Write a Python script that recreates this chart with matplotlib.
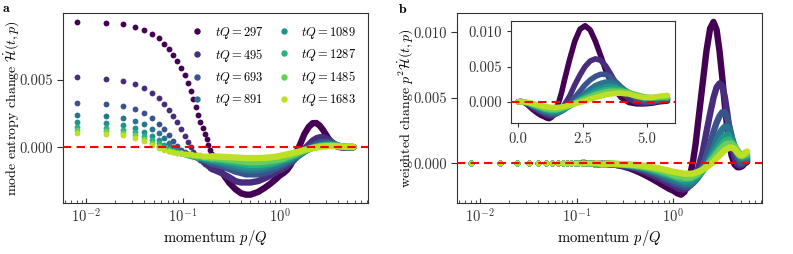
"""
Mode entropy change vs momentum, two panels (plain and p^2 weighted)
"""

import numpy as np
import matplotlib.pyplot as plt
from matplotlib.ticker import MultipleLocator, FormatStrFormatter

plt.rcParams.update({
    'font.family': 'serif',
    'font.serif': ['cmr10'],
    'mathtext.fontset': 'cm',
    'axes.formatter.use_mathtext': True,
    'font.size': 10.5,
    'axes.labelsize': 10,
    'xtick.labelsize': 10.5,
    'ytick.labelsize': 10.5,
    'axes.edgecolor': '#333333',
    'xtick.color': '#333333',
    'ytick.color': '#333333',
})

# times tQ of the snapshots
t_values = [297, 495, 693, 891, 1089, 1287, 1485, 1683]

# low momenta: lattice points (drawn as dots) then the dense part
p_low = [0.008, 0.016, 0.024, 0.032, 0.040, 0.048, 0.056, 0.064, 0.072, 0.080,
         0.088, 0.096, 0.104, 0.112, 0.120, 0.128, 0.136, 0.144, 0.152, 0.160,
         0.168, 0.176, 0.184, 0.192, 0.200,
         0.25, 0.3, 0.35, 0.4, 0.45, 0.5, 0.6, 0.7, 0.8, 0.9, 1.0]
n_dots = 25

# entropy change H'(t, p) at p_low
H_low = [
    [0.00925, 0.0092, 0.00908, 0.00888, 0.00866, 0.00837, 0.00803, 0.00765, 0.00725, 0.00682,
     0.00636, 0.00585, 0.0053, 0.00472, 0.00413, 0.00353, 0.00295, 0.0024, 0.0019, 0.00145,
     0.001, 0.00058, 0.00015, -0.0002, -0.00055,
     -0.0018, -0.0026, -0.0031, -0.0034, -0.0035, -0.0035, -0.0033, -0.0030, -0.0027, -0.0024, -0.0021],
    [0.00515, 0.00505, 0.00488, 0.00465, 0.00438, 0.00403, 0.00363, 0.00322, 0.00278, 0.00233,
     0.00185, 0.00135, 0.00085, 0.0004, 0.0, -0.00035, -0.0006, -0.0008, -0.00095, -0.0011,
     -0.0012, -0.0013, -0.0014, -0.0015, -0.0016,
     -0.0019, -0.0022, -0.0025, -0.0026, -0.0026, -0.0026, -0.0025, -0.0023, -0.0021, -0.0019, -0.0017],
    [0.0033, 0.00318, 0.00303, 0.0028, 0.0025, 0.00215, 0.00175, 0.00133, 0.0009, 0.00048,
     0.0001, -0.00018, -0.00036, -0.0005, -0.0006, -0.00068, -0.00075, -0.00082, -0.00088, -0.00094,
     -0.001, -0.00105, -0.0011, -0.00115, -0.0012,
     -0.0014, -0.0016, -0.0018, -0.0019, -0.002, -0.002, -0.002, -0.0019, -0.0018, -0.0016, -0.0015],
    [0.0024, 0.0023, 0.00215, 0.00195, 0.0017, 0.00138, 0.00103, 0.00068, 0.00033, 0.00003,
     -0.0002, -0.00035, -0.00045, -0.00053, -0.0006, -0.00066, -0.00072, -0.00077, -0.00082, -0.00086,
     -0.0009, -0.00094, -0.00098, -0.001, -0.00103,
     -0.0012, -0.0014, -0.0015, -0.0016, -0.0017, -0.0017, -0.0017, -0.0016, -0.0015, -0.0014, -0.0013],
    [0.00185, 0.00177, 0.00162, 0.0014, 0.00113, 0.00082, 0.0005, 0.0002, -0.00005, -0.00022,
     -0.00033, -0.00042, -0.0005, -0.00056, -0.00061, -0.00066, -0.0007, -0.00074, -0.00078, -0.00081,
     -0.00084, -0.00087, -0.0009, -0.00092, -0.00094,
     -0.0011, -0.0012, -0.0013, -0.0014, -0.0015, -0.0015, -0.0015, -0.0014, -0.0013, -0.0012, -0.0011],
    [0.0015, 0.00143, 0.0013, 0.0011, 0.00085, 0.00057, 0.0003, 0.00005, -0.00015, -0.00028,
     -0.00037, -0.00044, -0.0005, -0.00055, -0.00059, -0.00063, -0.00066, -0.00069, -0.00072, -0.00075,
     -0.00077, -0.00079, -0.00081, -0.00083, -0.00085,
     -0.00095, -0.00105, -0.00113, -0.0012, -0.00125, -0.0013, -0.0013, -0.00125, -0.0012, -0.0011, -0.001],
    [0.00125, 0.00118, 0.00105, 0.00087, 0.00062, 0.00035, 0.0001, -0.0001, -0.00024, -0.00033,
     -0.0004, -0.00045, -0.0005, -0.00054, -0.00057, -0.0006, -0.00063, -0.00065, -0.00067, -0.00069,
     -0.00071, -0.00073, -0.00075, -0.00077, -0.00078,
     -0.00085, -0.00092, -0.00098, -0.00103, -0.00107, -0.0011, -0.0011, -0.00106, -0.001, -0.00095, -0.0009],
    [0.00105, 0.001, 0.00088, 0.0007, 0.00045, 0.0002, -0.00005, -0.0002, -0.0003, -0.00036,
     -0.0004, -0.00044, -0.00047, -0.0005, -0.00052, -0.00054, -0.00056, -0.00058, -0.0006, -0.00061,
     -0.00062, -0.00063, -0.00064, -0.00065, -0.00066,
     -0.0007, -0.00073, -0.00076, -0.00078, -0.0008, -0.0008, -0.0008, -0.00078, -0.00075, -0.0007, -0.00065],
]

# high momenta, read as weighted change p^2 H'(t, p) from panel b
p_high = [1.1, 1.2, 1.3, 1.4, 1.5, 1.6, 1.7, 1.8, 2.0, 2.2, 2.4, 2.6, 2.8,
          3.0, 3.2, 3.4, 3.6, 3.8, 4.0, 4.3, 4.6, 4.9, 5.2, 5.5, 5.8]

W_high = [
    [-0.0023, -0.0024, -0.0022, -0.0016, -0.0008, 0.0002, 0.0015, 0.0031, 0.0060, 0.0086, 0.0103, 0.0108, 0.0102,
     0.0086, 0.0066, 0.0045, 0.0028, 0.0015, 0.0006, -0.0001, -0.0003, -0.0003, -0.0002, 0.0, 0.0001],
    [-0.0019, -0.002, -0.002, -0.0019, -0.0016, -0.0012, -0.0008, -0.0004, 0.0008, 0.0024, 0.0038, 0.005, 0.0058,
     0.0061, 0.0059, 0.0051, 0.0039, 0.0026, 0.0015, 0.0004, -0.0001, -0.0002, -0.0001, 0.0001, 0.0002],
    [-0.0016, -0.0017, -0.0018, -0.0018, -0.0017, -0.0015, -0.0013, -0.001, -0.0003, 0.0006, 0.0015, 0.0024, 0.0031,
     0.0036, 0.0039, 0.0039, 0.0035, 0.0028, 0.0021, 0.0011, 0.0004, 0.0, 0.0, 0.0002, 0.0003],
    [-0.0014, -0.0015, -0.0016, -0.0016, -0.0016, -0.0015, -0.0013, -0.0011, -0.0006, 0.0, 0.0006, 0.0012, 0.0018,
     0.0023, 0.0026, 0.0028, 0.0028, 0.0025, 0.002, 0.0013, 0.0007, 0.0003, 0.0002, 0.0003, 0.0004],
    [-0.0012, -0.0013, -0.0014, -0.0014, -0.0014, -0.0013, -0.0012, -0.001, -0.0006, -0.0002, 0.0003, 0.0008, 0.0012,
     0.0016, 0.0019, 0.0021, 0.0022, 0.0021, 0.0018, 0.0013, 0.0008, 0.0005, 0.0004, 0.0005, 0.0005],
    [-0.0011, -0.0012, -0.0012, -0.0012, -0.0012, -0.0011, -0.001, -0.0009, -0.0006, -0.0002, 0.0002, 0.0006, 0.0009,
     0.0012, 0.0015, 0.0017, 0.0018, 0.0018, 0.0016, 0.0013, 0.0009, 0.0006, 0.0005, 0.0006, 0.0006],
    [-0.001, -0.001, -0.0011, -0.0011, -0.0011, -0.001, -0.0009, -0.0008, -0.0005, -0.0002, 0.0001, 0.0004, 0.0007,
     0.001, 0.0012, 0.0014, 0.0015, 0.0015, 0.0015, 0.0013, 0.001, 0.0007, 0.0006, 0.0007, 0.0007],
    [-0.0007, -0.00075, -0.0008, -0.0008, -0.0008, -0.00078, -0.00072, -0.00065, -0.0005, -0.0003, -0.0001, 0.0001, 0.0004,
     0.0006, 0.0008, 0.001, 0.0011, 0.0012, 0.0012, 0.0011, 0.0008, 0.0006, 0.0006, 0.0008, 0.0009],
]

colors = plt.cm.viridis(np.linspace(0, 0.9, len(t_values)))


def build_series(i):
    """Return p, H and p^2 H for snapshot i"""
    p_lo = np.array(p_low)
    p_hi = np.array(p_high)
    h_lo = np.array(H_low[i])
    w_hi = np.array(W_high[i])
    p = np.concatenate([p_lo, p_hi])
    h = np.concatenate([h_lo, w_hi / p_hi**2])
    w = np.concatenate([p_lo**2 * h_lo, w_hi])
    return p, h, w


def draw_curves(ax, values_index, with_label=False, dots=True):
    """Dots at the lattice points, thick band where points are dense"""
    for i, t in enumerate(t_values):
        p, h, w = build_series(i)
        y = h if values_index == 0 else w
        if dots:
            ax.plot(p[:n_dots], y[:n_dots], 'o', ms=4.2, color=colors[i], mec='none',
                    label=f'$tQ = {t}$' if with_label else None)
            ax.plot(p[n_dots - 1:], y[n_dots - 1:], '-', lw=4.6, color=colors[i],
                    solid_capstyle='round', solid_joinstyle='round')
        else:
            ax.plot(p, y, '-', lw=4.0, color=colors[i],
                    solid_capstyle='round', solid_joinstyle='round')
    ax.axhline(0, color='red', ls='--', lw=1.5, dashes=(4, 2.5), zorder=10)


fig = plt.figure(figsize=(7.93, 2.54), dpi=100)
ax_a = fig.add_axes([0.0798, 0.1996, 0.3842, 0.748])
ax_b = fig.add_axes([0.5767, 0.1996, 0.3838, 0.748])

# panel a
draw_curves(ax_a, 0, with_label=True)
ax_a.set_xscale('log')
ax_a.set_xlim(0.0058, 8.2)
ax_a.yaxis.set_major_locator(MultipleLocator(0.005))
ax_a.yaxis.set_major_formatter(FormatStrFormatter('%.3f'))
ax_a.set_xlabel('momentum $p/Q$', fontsize=10.5, labelpad=1)
ax_a.set_ylabel(r'mode entropy change $\dot{\mathcal{H}}(t,p)$')
ax_a.legend(ncol=2, frameon=False, fontsize=9, loc='upper right',
            bbox_to_anchor=(1.0, 1.0), handletextpad=0.4, columnspacing=0.6,
            markerscale=1.1)

# panel b
draw_curves(ax_b, 1)
ax_b.set_xscale('log')
ax_b.set_xlim(0.0058, 8.2)
ax_b.yaxis.set_major_locator(MultipleLocator(0.005))
ax_b.yaxis.set_major_formatter(FormatStrFormatter('%.3f'))
ax_b.set_xlabel('momentum $p/Q$', fontsize=10.5, labelpad=1)
ax_b.set_ylabel(r'weighted change $p^2\dot{\mathcal{H}}(t,p)$')

for ax in (ax_a, ax_b):
    ax.tick_params(axis='x', which='both', direction='in')
    ax.tick_params(axis='y', direction='out', length=4)
    ax.yaxis.set_label_coords(-0.14, 0.5)

# inset with linear momentum axis
ax_in = ax_b.inset_axes([0.176, 0.421, 0.539, 0.538])
draw_curves(ax_in, 1, dots=False)
ax_in.set_ylim(ax_b.get_ylim())
ax_in.xaxis.set_major_locator(MultipleLocator(2.5))
ax_in.xaxis.set_major_formatter(FormatStrFormatter('%.1f'))
ax_in.yaxis.set_major_locator(MultipleLocator(0.005))
ax_in.yaxis.set_major_formatter(FormatStrFormatter('%.3f'))
ax_in.tick_params(length=3)

fig.text(0.002, 0.99, r'$\mathbf{a}$', fontsize=10, va='top')
fig.text(0.502, 0.99, r'$\mathbf{b}$', fontsize=10, va='top')

fig.savefig('out.png', dpi=100)
